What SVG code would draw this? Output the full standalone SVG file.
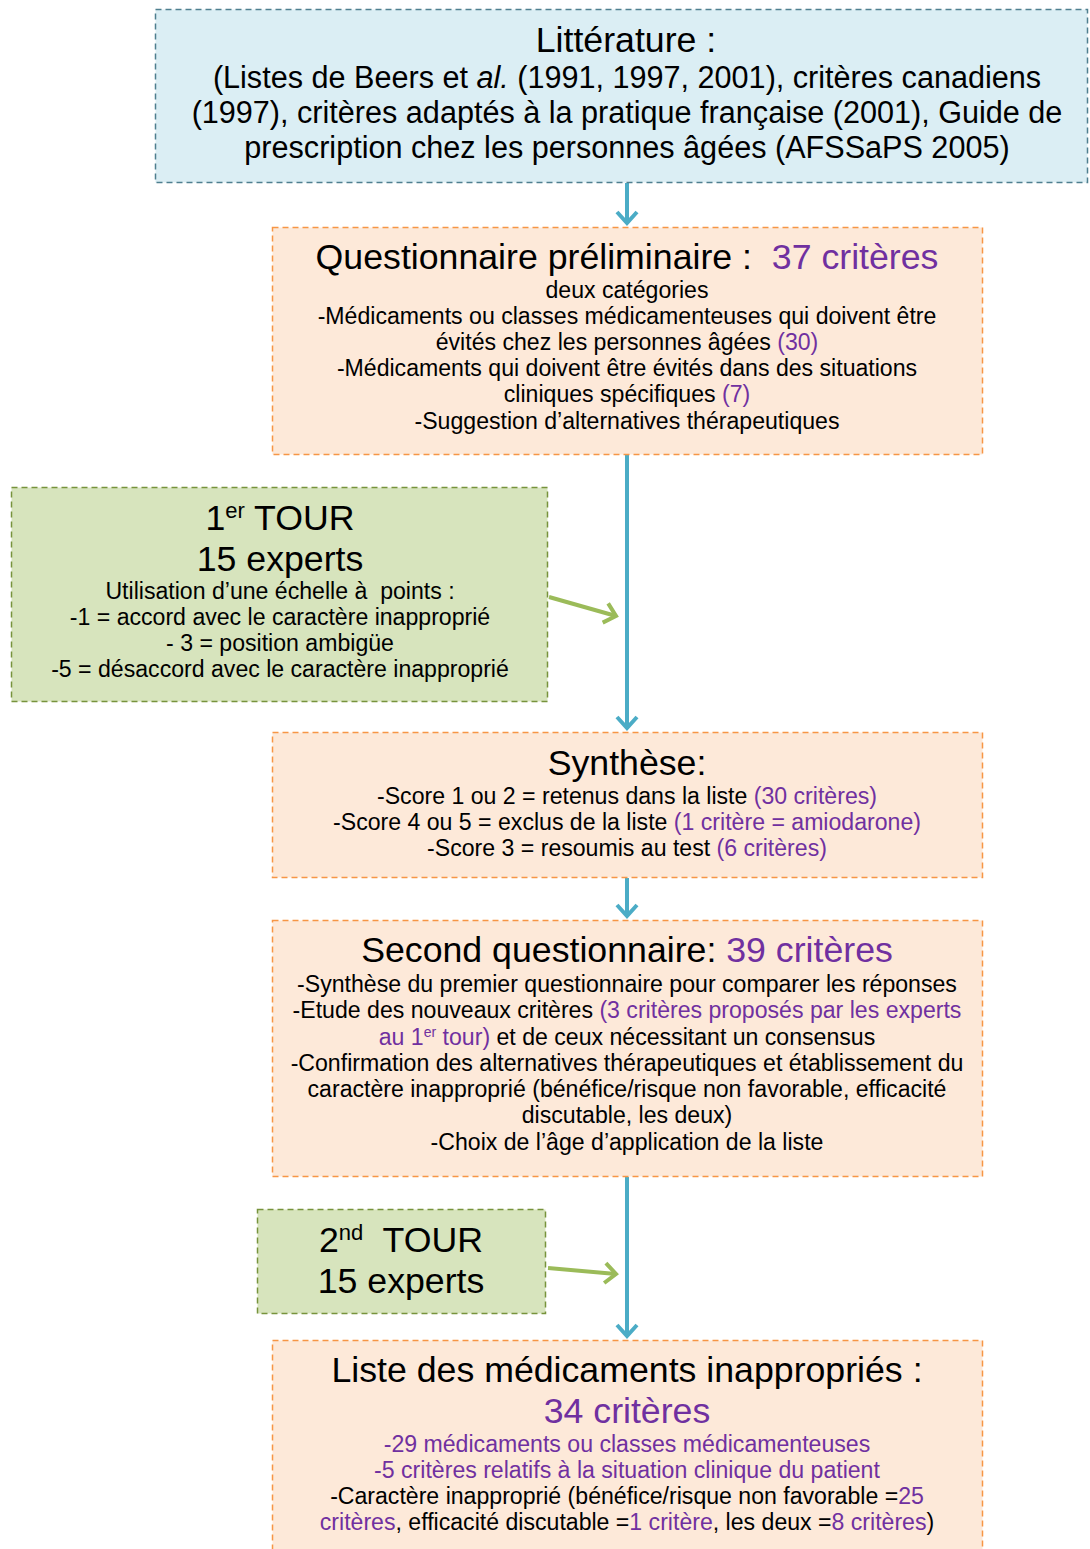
<svg xmlns="http://www.w3.org/2000/svg" width="1090" height="1549" viewBox="0 0 1090 1549">
<defs>
<style>
text{font-family:"Liberation Sans",Arial,sans-serif;fill:#000;text-anchor:middle}
.t{font-size:35.7px}
.b{font-size:23.1px}
.l{font-size:30.6px}
.p{fill:#7030a0}
.blue{fill:#dbeef4;stroke:#4f7f8f;stroke-width:1.5;stroke-dasharray:6 4}
.org{fill:#fde9d9;stroke:#f79646;stroke-width:1.5;stroke-dasharray:6 4}
.grn{fill:#d7e4bd;stroke:#77933c;stroke-width:1.5;stroke-dasharray:6 4}
.ca{stroke:#4bacc6;stroke-width:4;fill:none}
.ga{stroke:#9bbb59;stroke-width:4;fill:none}
</style>
<marker id="mb" markerWidth="8" markerHeight="8" refX="5" refY="4" orient="auto" markerUnits="userSpaceOnUse" viewBox="0 0 8 8" overflow="visible">
<path d="M-6,-6 L5,4 L-6,14" fill="none" stroke="#4bacc6" stroke-width="4"/>
</marker>
<marker id="mg" markerWidth="8" markerHeight="8" refX="5" refY="4" orient="auto" markerUnits="userSpaceOnUse" viewBox="0 0 8 8" overflow="visible">
<path d="M-6,-6 L5,4 L-6,14" fill="none" stroke="#9bbb59" stroke-width="4"/>
</marker>
</defs>

<g id="connectors">
<line class="ca" x1="627" y1="183" x2="627" y2="223" marker-end="url(#mb)"/>
<line class="ca" x1="627" y1="455" x2="627" y2="728" marker-end="url(#mb)"/>
<line class="ca" x1="627" y1="878" x2="627" y2="916" marker-end="url(#mb)"/>
<line class="ca" x1="627" y1="1177" x2="627" y2="1336" marker-end="url(#mb)"/>
<line class="ga" x1="549" y1="597" x2="616" y2="616" marker-end="url(#mg)"/>
<line class="ga" x1="548" y1="1268" x2="616" y2="1274" marker-end="url(#mg)"/>
</g>

<g id="n-litterature">
<rect class="blue" x="155.5" y="9.5" width="932" height="173"/>
<text class="t" x="626" y="52">Littérature :</text>
<text class="l" x="627" y="88">(Listes de Beers et <tspan font-style="italic">al.</tspan> (1991, 1997, 2001), critères canadiens</text>
<text class="l" x="627" y="123">(1997), critères adaptés à la pratique française (2001), Guide de</text>
<text class="l" x="627" y="158">prescription chez les personnes âgées (AFSSaPS 2005)</text>
</g>

<g id="n-questionnaire">
<rect class="org" x="272.5" y="227.5" width="710" height="227"/>
<text class="t" x="627" y="269" xml:space="preserve">Questionnaire préliminaire :  <tspan class="p">37 critères</tspan></text>
<text class="b" x="627" y="298">deux catégories</text>
<text class="b" x="627" y="324">-Médicaments ou classes médicamenteuses qui doivent être</text>
<text class="b" x="627" y="350">évités chez les personnes âgées <tspan class="p">(30)</tspan></text>
<text class="b" x="627" y="376">-Médicaments qui doivent être évités dans des situations</text>
<text class="b" x="627" y="402">cliniques spécifiques <tspan class="p">(7)</tspan></text>
<text class="b" x="627" y="429">-Suggestion d’alternatives thérapeutiques</text>
</g>

<g id="n-tour1">
<rect class="grn" x="11.5" y="487.5" width="536" height="214"/>
<text class="t" x="280" y="530">1<tspan font-size="22" dy="-12">er</tspan><tspan dy="12"> TOUR</tspan></text>
<text class="t" x="280" y="571">15 experts</text>
<text class="b" x="280" y="599" xml:space="preserve">Utilisation d’une échelle à  points :</text>
<text class="b" x="280" y="625">-1 = accord avec le caractère inapproprié</text>
<text class="b" x="280" y="651">- 3 = position ambigüe</text>
<text class="b" x="280" y="677">-5 = désaccord avec le caractère inapproprié</text>
</g>

<g id="n-synthese">
<rect class="org" x="272.5" y="732.5" width="710" height="145"/>
<text class="t" x="627" y="775">Synthèse:</text>
<text class="b" x="627" y="804">-Score 1 ou 2 = retenus dans la liste <tspan class="p">(30 critères)</tspan></text>
<text class="b" x="627" y="830">-Score 4 ou 5 = exclus de la liste <tspan class="p">(1 critère = amiodarone)</tspan></text>
<text class="b" x="627" y="856">-Score 3 = resoumis au test <tspan class="p">(6 critères)</tspan></text>
</g>

<g id="n-second">
<rect class="org" x="272.5" y="920.5" width="710" height="256"/>
<text class="t" x="627" y="962">Second questionnaire: <tspan class="p">39 critères</tspan></text>
<text class="b" x="627" y="992">-Synthèse du premier questionnaire pour comparer les réponses</text>
<text class="b" x="627" y="1018">-Etude des nouveaux critères <tspan class="p">(3 critères proposés par les experts</tspan></text>
<text class="b" x="627" y="1045"><tspan class="p">au 1<tspan font-size="14" dy="-8">er</tspan><tspan dy="8"> tour)</tspan></tspan> et de ceux nécessitant un consensus</text>
<text class="b" x="627" y="1071">-Confirmation des alternatives thérapeutiques et établissement du</text>
<text class="b" x="627" y="1097">caractère inapproprié (bénéfice/risque non favorable, efficacité</text>
<text class="b" x="627" y="1123">discutable, les deux)</text>
<text class="b" x="627" y="1150">-Choix de l’âge d’application de la liste</text>
</g>

<g id="n-tour2">
<rect class="grn" x="257.5" y="1209.5" width="288" height="104"/>
<text class="t" x="401" y="1252" xml:space="preserve">2<tspan font-size="22" dy="-12">nd</tspan><tspan dy="12">  TOUR</tspan></text>
<text class="t" x="401" y="1293">15 experts</text>
</g>

<g id="n-liste">
<rect class="org" x="272.5" y="1340.5" width="710" height="215"/>
<text class="t" x="627" y="1382">Liste des médicaments inappropriés :</text>
<text class="t p" x="627" y="1423">34 critères</text>
<text class="b p" x="627" y="1452">-29 médicaments ou classes médicamenteuses</text>
<text class="b p" x="627" y="1478">-5 critères relatifs à la situation clinique du patient</text>
<text class="b" x="627" y="1504">-Caractère inapproprié (bénéfice/risque non favorable =<tspan class="p">25</tspan></text>
<text class="b" x="627" y="1530"><tspan class="p">critères</tspan>, efficacité discutable =<tspan class="p">1 critère</tspan>, les deux =<tspan class="p">8 critères</tspan>)</text>
</g>
</svg>
